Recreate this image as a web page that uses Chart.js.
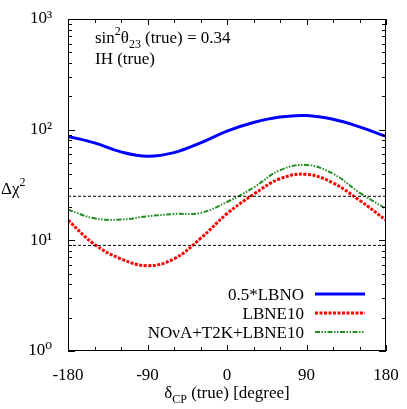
<!DOCTYPE html>
<html><head><meta charset="utf-8">
<script src="https://cdn.jsdelivr.net/npm/chart.js@4"></script>
<style>html,body{margin:0;padding:0;background:#fff}#wrap{width:407px;height:409px}</style>
</head><body><div id="wrap"><canvas id="c"></canvas></div>
<script>
const deltaCP = [-180,-150,-120,-90,-60,-30,0,30,60,90,120,150,180];
const lbno    = [87,76,63,57.5,62,76,97,116,130,134,124,106,87];
const lbne10  = [15.2,9.2,6.8,5.9,6.8,10.4,17.4,26,36,39.5,33,23,15.2];
const combo   = [18.9,15.8,15.4,16.5,17.3,17.7,22.2,30,43,48,40,27,19.3];
const refLines = [25, 9];
const seriesNames = ['0.5*LBNO','LBNE10','NOνA+T2K+LBNE10'];
const xTickLabels = [-180,-90,0,90,180];
const yTickLabels = {1:'10⁰',10:'10¹',100:'10²',1000:'10³'};

const font = '"Liberation Serif", "DejaVu Serif", serif';
const pts = a => deltaCP.map((x,i)=>({x, y:a[i]}));
const hline = v => [{x:-180,y:v},{x:180,y:v}];

const decor = {
  id:'decor',
  afterDraw(chart){
    const {ctx, chartArea:a, scales:{x,y}} = chart;
    ctx.save();
    ctx.strokeStyle='#000'; ctx.lineWidth=1;
    ctx.strokeRect(a.left+0.5,a.top+0.5,a.width-1,a.height-1);
    ctx.beginPath();
    for(let v=-180; v<=180; v+=30){
      const px=Math.round(x.getPixelForValue(v))+0.5, len = v%90===0?6:4;
      ctx.moveTo(px,a.bottom); ctx.lineTo(px,a.bottom-len);
      ctx.moveTo(px,a.top); ctx.lineTo(px,a.top+len);
    }
    for(let d=1; d<1000; d*=10) for(let m=1; m<=10; m++){
      const py=Math.round(y.getPixelForValue(d*m))+0.5, len = m===1||m===10?7:4;
      ctx.moveTo(a.left,py); ctx.lineTo(a.left+len,py);
      ctx.moveTo(a.right,py); ctx.lineTo(a.right-len,py);
    }
    ctx.stroke();
    ctx.fillStyle='#000';
    ctx.font='17px '+font; ctx.textBaseline='alphabetic';
    let tx=a.left+27, ty=a.top+24;
    ctx.fillText('sin',tx,ty); tx+=ctx.measureText('sin').width;
    ctx.font='12px '+font; ctx.fillText('2',tx,ty-8); tx+=ctx.measureText('2').width;
    ctx.font='17px '+font; ctx.fillText('θ',tx,ty); tx+=ctx.measureText('θ').width;
    ctx.font='12px '+font; ctx.fillText('23',tx,ty+5); tx+=ctx.measureText('23').width+4;
    ctx.font='17px '+font; ctx.fillText('(true) = 0.34',tx,ty);
    ctx.fillText('IH (true)',a.left+27,a.top+45);
    tx=1; ty=194;
    ctx.fillText('Δχ',tx,ty); tx+=ctx.measureText('Δχ').width;
    ctx.font='12px '+font; ctx.fillText('2',tx,ty-8);
    const xs1='δ', xs2='CP', xs3=' (true) [degree]';
    ctx.font='17px '+font; const w1=ctx.measureText(xs1).width, w3=ctx.measureText(xs3).width;
    ctx.font='12px '+font; const w2=ctx.measureText(xs2).width;
    tx=(a.left+a.right)/2-(w1+w2+w3)/2; ty=398;
    ctx.font='17px '+font; ctx.fillText(xs1,tx,ty); tx+=w1;
    ctx.font='12px '+font; ctx.fillText(xs2,tx,ty+5); tx+=w2;
    ctx.font='17px '+font; ctx.fillText(xs3,tx,ty);
    const styles=[{c:'#0000ff',d:[],w:3},{c:'#ff0000',d:[3,1.5],w:3},{c:'#228b22',d:[5,1.5,1.5,1.5,1.5,1.5],w:2}];
    ctx.font='17px '+font; ctx.textAlign='right';
    seriesNames.forEach((n,i)=>{
      const ly=a.top+275+i*19;
      ctx.fillStyle='#000'; ctx.fillText(n,a.left+236,ly+6);
      ctx.strokeStyle=styles[i].c; ctx.lineWidth=styles[i].w; ctx.setLineDash(styles[i].d);
      ctx.beginPath(); ctx.moveTo(a.left+247,ly); ctx.lineTo(a.left+297,ly); ctx.stroke();
    });
    ctx.restore();
  }
};

new Chart(document.getElementById('c'), {
  type:'line',
  data:{datasets:[
    {data:hline(refLines[0]),borderColor:'#000',borderWidth:1,borderDash:[3,2],pointRadius:0},
    {data:hline(refLines[1]),borderColor:'#000',borderWidth:1,borderDash:[3,2],pointRadius:0},
    {label:seriesNames[0],data:pts(lbno),borderColor:'#0000ff',borderWidth:3,pointRadius:0,tension:0.4},
    {label:seriesNames[1],data:pts(lbne10),borderColor:'#ff0000',borderWidth:3,borderDash:[3,1.5],pointRadius:0,tension:0.4},
    {label:seriesNames[2],data:pts(combo),borderColor:'#228b22',borderWidth:2,borderDash:[5,1.5,1.5,1.5,1.5,1.5],pointRadius:0,tension:0.4}
  ]},
  options:{
    responsive:true, maintainAspectRatio:false, animation:false,
    layout:{padding:{top:19,right:21,bottom:0,left:0}},
    plugins:{legend:{display:false},tooltip:{enabled:false}},
    scales:{
      x:{type:'linear',min:-180,max:180,
        afterBuildTicks:s=>{s.ticks=xTickLabels.map(v=>({value:v}));},
        afterFit:s=>{s.height=58;},
        grid:{display:false},border:{display:false},
        ticks:{color:'#000',font:{family:font,size:17},maxRotation:0,padding:6}},
      y:{type:'logarithmic',min:1,max:1000,
        afterBuildTicks:s=>{s.ticks=[1,10,100,1000].map(v=>({value:v}));},
        afterFit:s=>{s.width=68;},
        grid:{display:false},border:{display:false},
        ticks:{color:'#000',font:{family:font,size:17},padding:8,callback:v=>yTickLabels[v]||''}}
    }
  },
  plugins:[decor]
});
</script></body></html>
